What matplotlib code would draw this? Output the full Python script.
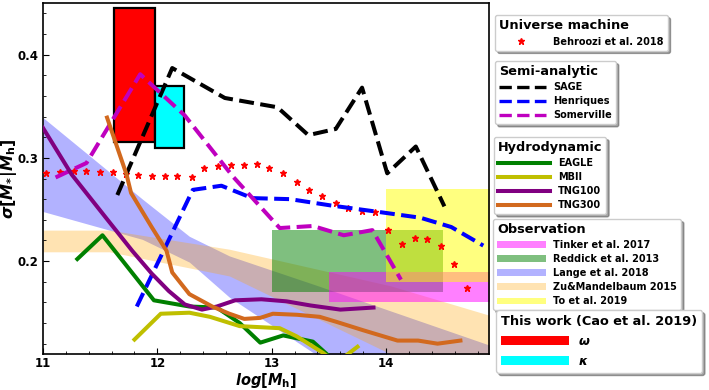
import matplotlib
matplotlib.use('Agg')
import matplotlib.pyplot as plt
from matplotlib.lines import Line2D
from matplotlib.patches import Patch, Rectangle
from matplotlib.ticker import MultipleLocator

plt.rcParams['font.family'] = ['DejaVu Sans']
plt.rcParams['font.weight'] = 'bold'
plt.rcParams['mathtext.fontset'] = 'dejavusans'
plt.rcParams['axes.linewidth'] = 1.2

# ---------------- data ----------------
# Universe machine (Behroozi et al. 2018)
beh_x = [11.03, 11.15, 11.27, 11.38, 11.50, 11.61, 11.73, 11.83, 11.95, 12.07, 12.17,
         12.30, 12.41, 12.53, 12.64, 12.76, 12.87, 12.98, 13.10, 13.22, 13.33, 13.44,
         13.56, 13.67, 13.79, 13.90, 14.02, 14.14, 14.25, 14.36, 14.48, 14.59, 14.71]
beh_y = [0.285, 0.286, 0.287, 0.287, 0.286, 0.286, 0.284, 0.283, 0.282, 0.282, 0.282,
         0.281, 0.290, 0.292, 0.293, 0.293, 0.294, 0.290, 0.285, 0.277, 0.269, 0.263,
         0.256, 0.251, 0.249, 0.248, 0.230, 0.217, 0.222, 0.221, 0.215, 0.197, 0.174]

# Semi-analytic models
sage_x = [11.65, 12.13, 12.59, 13.05, 13.32, 13.56, 13.79, 14.01, 14.26, 14.51]
sage_y = [0.264, 0.387, 0.358, 0.349, 0.322, 0.328, 0.368, 0.285, 0.311, 0.253]

henr_x = [11.82, 12.31, 12.56, 12.83, 13.16, 13.51, 13.91, 14.30, 14.57, 14.85]
henr_y = [0.156, 0.269, 0.273, 0.261, 0.260, 0.254, 0.248, 0.242, 0.233, 0.215]

some_x = [11.11, 11.38, 11.85, 12.24, 12.66, 13.07, 13.36, 13.63, 13.88, 14.13]
some_y = [0.281, 0.295, 0.381, 0.341, 0.282, 0.232, 0.234, 0.225, 0.230, 0.182]

# Hydrodynamic simulations
eagle_x = [11.30, 11.52, 11.97, 12.28, 12.52, 12.72, 12.90, 13.10, 13.36, 13.50]
eagle_y = [0.202, 0.225, 0.162, 0.156, 0.155, 0.140, 0.121, 0.128, 0.122, 0.108]

mbii_x = [11.80, 12.03, 12.28, 12.46, 12.72, 13.07, 13.22, 13.45, 13.55, 13.62, 13.75]
mbii_y = [0.124, 0.149, 0.150, 0.146, 0.137, 0.135, 0.127, 0.111, 0.102, 0.106, 0.117]

tng100_x = [11.00, 11.25, 11.55, 11.78, 11.95, 12.10, 12.24, 12.39, 12.52, 12.68,
            12.91, 13.13, 13.34, 13.60, 13.89]
tng100_y = [0.329, 0.284, 0.242, 0.210, 0.188, 0.171, 0.158, 0.153, 0.156, 0.162,
            0.163, 0.161, 0.157, 0.153, 0.155]

tng300_x = [11.56, 11.73, 11.77, 11.95, 12.08, 12.13, 12.28, 12.48, 12.63, 12.76,
            12.90, 13.01, 13.22, 13.42, 13.57, 13.80, 14.10, 14.28, 14.45, 14.65]
tng300_y = [0.339, 0.284, 0.266, 0.233, 0.210, 0.189, 0.168, 0.156, 0.149, 0.144,
            0.145, 0.149, 0.148, 0.146, 0.141, 0.133, 0.123, 0.123, 0.120, 0.123]

# Observations
tinker_x = [13.5, 15.0]
tinker_y = [0.160, 0.189]
reddick_x = [13.0, 14.5]
reddick_y = [0.170, 0.230]
to_x = [14.0, 15.0]
to_y = [0.180, 0.270]

lange_x = [11.0, 11.87, 12.28, 12.63, 13.38, 14.92]
lange_hi = [0.339, 0.260, 0.224, 0.205, 0.177, 0.118]
lange_lo = [0.248, 0.221, 0.199, 0.165, 0.110, 0.000]

zu_x = [11.0, 11.58, 12.63, 14.04, 14.92]
zu_hi = [0.230, 0.230, 0.2115, 0.176, 0.147]
zu_lo = [0.209, 0.209, 0.1856, 0.110, 0.069]

# This work (Cao et al. 2019)
omega_x = [11.62, 11.98]
omega_y = [0.315, 0.445]
kappa_x = [11.98, 12.23]
kappa_y = [0.310, 0.370]

# ---------------- figure ----------------
fig = plt.figure(figsize=(7.09, 3.90), dpi=100)
ax = fig.add_axes([43/709, 36/390, 446/709, 351/390])

ax.fill_between(lange_x, lange_lo, lange_hi, color='blue', alpha=0.3, lw=0, zorder=1)
ax.fill_between(zu_x, zu_lo, zu_hi, color='orange', alpha=0.3, lw=0, zorder=1)
ax.fill_between(reddick_x, reddick_y[0], reddick_y[1], color='green', alpha=0.5, lw=0, zorder=1)
ax.fill_between(tinker_x, tinker_y[0], tinker_y[1], color='magenta', alpha=0.5, lw=0, zorder=1)
ax.fill_between(to_x, to_y[0], to_y[1], color='yellow', alpha=0.5, lw=0, zorder=1)

ax.add_patch(Rectangle((omega_x[0], omega_y[0]), omega_x[1]-omega_x[0], omega_y[1]-omega_y[0],
                       facecolor='red', edgecolor='black', lw=1.6, zorder=2))
ax.add_patch(Rectangle((kappa_x[0], kappa_y[0]), kappa_x[1]-kappa_x[0], kappa_y[1]-kappa_y[0],
                       facecolor='cyan', edgecolor='black', lw=1.6, zorder=2))

ax.plot(beh_x, beh_y, ls='none', marker='*', color='red', ms=5, zorder=3)

lw = 2.9
ax.plot(sage_x, sage_y, ls='--', color='black', lw=lw, zorder=4)
ax.plot(henr_x, henr_y, ls='--', color='blue', lw=lw, zorder=4)
ax.plot(some_x, some_y, ls='--', color='m', lw=lw, zorder=4)
ax.plot(eagle_x, eagle_y, color='green', lw=lw, zorder=4)
ax.plot(mbii_x, mbii_y, color='y', lw=lw, zorder=4)
ax.plot(tng100_x, tng100_y, color='purple', lw=lw, zorder=4)
ax.plot(tng300_x, tng300_y, color='chocolate', lw=lw, zorder=4)

ax.set_xlim(11, 14.9)
ax.set_ylim(0.11, 0.45)
ax.xaxis.set_major_locator(MultipleLocator(1))
ax.xaxis.set_minor_locator(MultipleLocator(0.2))
ax.yaxis.set_major_locator(MultipleLocator(0.1))
ax.yaxis.set_minor_locator(MultipleLocator(0.02))
ax.tick_params(which='both', direction='in', labelsize=8.5)
ax.tick_params(axis='x', which='both', pad=2.5)
ax.tick_params(which='major', length=4)
ax.tick_params(which='minor', length=2)
for lab in ax.get_xticklabels() + ax.get_yticklabels():
    lab.set_fontweight('bold')

ax.set_xlabel(r'$\mathbfit{log}\mathbf{[}\mathbfit{M}_{\mathbf{h}}\mathbf{]}$', fontsize=10.5, labelpad=0.5)
ax.set_ylabel(r'$\mathbfit{\sigma}\mathbf{[}\mathbfit{M}_{\mathbf{*}}\mathbf{|}\mathbfit{M}_{\mathbf{h}}\mathbf{]}$',
              fontsize=11.5, labelpad=-1)

# ---------------- legends ----------------
W, H = 709, 390
common = dict(loc='upper left', bbox_transform=fig.transFigure, shadow=True,
              borderaxespad=0, alignment='left')
tprop = {'weight': 'bold', 'size': 9.3}
sprop = {'weight': 'bold', 'size': 7}

fig.legend([Line2D([], [], ls='none', marker='*', color='red', ms=5)],
           ['Behroozi et al. 2018'], title='Universe machine', title_fontproperties=tprop,
           prop=sprop, bbox_to_anchor=(495/W, 1-15/H), handlelength=4.6,
           handletextpad=1.0, **common)

fig.legend([Line2D([], [], ls='--', color=c, lw=2.4) for c in ['black', 'blue', 'm']],
           ['SAGE', 'Henriques', 'Somerville'], title='Semi-analytic', title_fontproperties=tprop,
           prop=sprop, bbox_to_anchor=(495/W, 1-61/H), handlelength=4.8, labelspacing=0.42,
           handletextpad=0.8, **common)

fig.legend([Line2D([], [], color=c, lw=2.9) for c in ['green', 'y', 'purple', 'chocolate']],
           ['EAGLE', 'MBII', 'TNG100', 'TNG300'], title='Hydrodynamic', title_fontproperties=tprop,
           prop=sprop, bbox_to_anchor=(494/W, 1-137/H), handlelength=5.4, labelspacing=0.42,
           handletextpad=0.8, **common)

fig.legend([Patch(facecolor='magenta', alpha=0.5), Patch(facecolor='green', alpha=0.5),
            Patch(facecolor='blue', alpha=0.3), Patch(facecolor='orange', alpha=0.3),
            Patch(facecolor='yellow', alpha=0.5)],
           ['Tinker et al. 2017', 'Reddick et al. 2013', 'Lange et al. 2018',
            'Zu&Mandelbaum 2015', 'To et al. 2019'], title='Observation',
           title_fontproperties=tprop, prop=sprop,
           bbox_to_anchor=(493/W, 1-219/H), handlelength=5.0, handleheight=0.7,
           labelspacing=0.42, handletextpad=0.8, **common)

fig.legend([Patch(facecolor='red'), Patch(facecolor='cyan')],
           [r'$\mathbfit{\omega}$', r'$\mathbfit{\kappa}$'], title='This work (Cao et al. 2019)',
           title_fontproperties=tprop, prop={'weight': 'bold', 'size': 9},
           bbox_to_anchor=(496/W, 1-310/H), handlelength=5.4, handleheight=0.8,
           labelspacing=0.55, handletextpad=0.8, **common)

fig.savefig('out.png', dpi=100)
